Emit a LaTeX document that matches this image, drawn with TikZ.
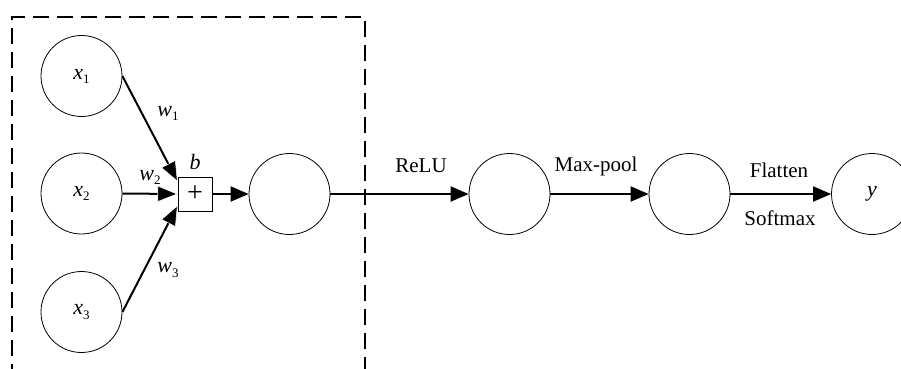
\documentclass[tikz,border=0pt]{standalone}
\usepackage{fontspec}
\setmainfont{Liberation Serif}
\usetikzlibrary{arrows.meta}
\newcommand\ivar[2]{\textit{#1}\raisebox{-0.4ex}{\fontsize{13}{13}\selectfont #2}}
\begin{document}
\begin{tikzpicture}[x=1pt,y=-1pt,
  neuron/.style={circle,draw,line width=0.8pt,minimum size=81pt,inner sep=0pt,
    font=\fontsize{22}{22}\selectfont},
  sumbox/.style={rectangle,draw,line width=0.8pt,minimum size=34pt,inner sep=0pt,
    font=\fontsize{28}{28}\selectfont},
  flow/.style={line width=2pt,-{Triangle[length=18pt,width=15pt]}},
  inflow/.style={line width=2pt,
    -{Triangle[length=20pt,width=16pt,fill=black,color=white,line width=0.5pt]}},
  lbl/.style={font=\fontsize{21}{21}\selectfont,inner sep=0pt},
  wlbl/.style={font=\fontsize{22}{22}\selectfont,inner sep=0pt},
  frame/.style={line width=2pt,dash pattern=on 16pt off 8pt}]
\useasboundingbox (0,0) rectangle (901,368);

% dashed frame around the input layer
\coordinate (fbl) at (12,380);
\coordinate (ftl) at (12,17);
\coordinate (ftr) at (365,17);
\coordinate (fbr) at (365,380);
\draw[frame] (fbl) -- (ftl) -- (ftr) -- (fbr);

% neurons
\node[neuron] (x1) at (81.5,76) {\ivar{x}{1}};
\node[neuron] (x2) at (81.5,193.5) {\ivar{x}{2}};
\node[neuron] (x3) at (81.5,312) {\ivar{x}{3}};
\node[sumbox] (sum) at (195,194) {+};
\node[neuron] (h1) at (289.5,194) {};
\node[neuron] (h2) at (509.5,194) {};
\node[neuron] (h3) at (689.5,194) {};
\node[neuron] (out) at (872,194) {\textit{y}};

% weighted inputs into the summation
\coordinate (in1) at ([yshift=-5pt]sum.north west);
\coordinate (in3) at ([yshift=6pt]sum.south west);
\draw[inflow] (x2.east) -- (sum.west);
\draw[inflow] (x1.east) -- (in1);
\draw[inflow] (x3.east) -- (in3);
\draw[flow] (sum.east) -- (h1.west);
\draw[flow] (h1.east) -- (h2.west);
\draw[flow] (h2.east) -- (h3.west);
\draw[flow] (h3.east) -- (out.west);

% labels
\node[wlbl] (w1) at (168,113) {\ivar{w}{1}};
\node[wlbl] (w2) at (150,177) {\ivar{w}{2}};
\node[wlbl] (w3) at (168,270) {\ivar{w}{3}};
\node[wlbl] (bias) at (195,162) {\textit{b}};
\node[lbl] (relu) at (421,166) {ReLU};
\node[lbl] (pool) at (596,166) {Max-pool};
\node[lbl] (flat) at (779,170) {Flatten};
\node[lbl] (soft) at (780,218) {Softmax};
\end{tikzpicture}
\end{document}
